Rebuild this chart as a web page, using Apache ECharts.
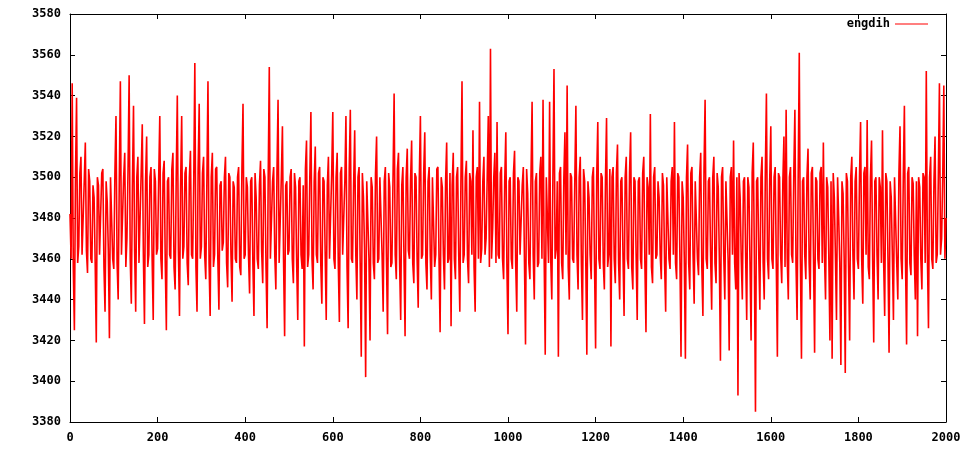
<!DOCTYPE html>
<html>
<head>
<meta charset="utf-8">
<script src="https://cdn.jsdelivr.net/npm/echarts@6/dist/echarts.min.js"></script>
<style>
  html, body { margin: 0; padding: 0; background: #fff; }
  #chart { width: 960px; height: 450px; }
</style>
</head>
<body>
<div id="chart"></div>
<script>
// engdih: samples at x = 0, 5, 10 ... (local highs / lows)
const seriesName = "engdih";
const xStep = 5;
const engdih = [
  3482, 3546, 3425, 3539, 3466, 3510, 3462, 3517, 3453, 3498, 3458, 3490, 3419, 3496, 3462, 3504, 3434, 3488, 3421, 3500,
  3455, 3530, 3440, 3547, 3462, 3512, 3470, 3550, 3438, 3535, 3434, 3510, 3458, 3526, 3428, 3520, 3462, 3505, 3430, 3498,
  3465, 3530, 3450, 3508, 3425, 3500, 3460, 3512, 3445, 3540, 3432, 3530, 3466, 3505, 3447, 3513, 3460, 3556, 3434, 3536,
  3466, 3510, 3450, 3547, 3432, 3512, 3462, 3505, 3435, 3498, 3468, 3510, 3446, 3500, 3439, 3495, 3458, 3505, 3452, 3536,
  3462, 3495, 3443, 3500, 3432, 3490, 3455, 3508, 3448, 3500, 3426, 3554, 3460, 3505, 3445, 3538, 3458, 3525, 3422, 3498,
  3464, 3504, 3448, 3495, 3430, 3500, 3455, 3417, 3518, 3462, 3532, 3445, 3515, 3458, 3505, 3438, 3498, 3430, 3510, 3460,
  3532, 3455, 3512, 3429, 3505, 3462, 3530, 3426, 3533, 3458, 3523, 3440, 3505, 3412, 3490, 3402, 3498, 3420, 3495, 3450,
  3520, 3460, 3500, 3434, 3505, 3423, 3495, 3458, 3541, 3450, 3512, 3430, 3505, 3422, 3514, 3460, 3518, 3448, 3500, 3436,
  3530, 3462, 3522, 3445, 3505, 3440, 3500, 3462, 3505, 3424, 3495, 3445, 3517, 3460, 3427, 3512, 3450, 3505, 3434, 3547,
  3462, 3508, 3448, 3498, 3523, 3434, 3505, 3537, 3465, 3510, 3470, 3530, 3563, 3475, 3512, 3527, 3460, 3505, 3450, 3522,
  3423, 3500, 3455, 3513, 3434, 3498, 3462, 3505, 3418, 3492, 3450, 3537, 3440, 3502, 3458, 3510, 3538, 3413, 3500, 3537,
  3440, 3553, 3465, 3412, 3505, 3450, 3522, 3545, 3440, 3500, 3458, 3535, 3445, 3510, 3430, 3498, 3413, 3490, 3450, 3505,
  3416, 3527, 3455, 3500, 3445, 3529, 3462, 3417, 3505, 3448, 3516, 3440, 3500, 3432, 3510, 3455, 3522, 3445, 3498, 3430,
  3500, 3455, 3510, 3424, 3495, 3531, 3448, 3505, 3462, 3490, 3450, 3496, 3434, 3500, 3455, 3505, 3527, 3450, 3500, 3412,
  3490, 3411, 3516, 3445, 3505, 3438, 3498, 3452, 3512, 3432, 3538, 3455, 3500, 3435, 3510, 3448, 3495, 3410, 3505, 3440,
  3498, 3415, 3505, 3518, 3445, 3393, 3490, 3440, 3500, 3430, 3495, 3420, 3517, 3385, 3500, 3435, 3510, 3440, 3541, 3450,
  3525, 3455, 3505, 3412, 3500, 3448, 3520, 3533, 3440, 3505, 3458, 3533, 3430, 3561, 3411, 3500, 3450, 3514, 3440, 3505,
  3414, 3498, 3455, 3505, 3517, 3440, 3495, 3420, 3411, 3490, 3430, 3480, 3408, 3492, 3404, 3498, 3420, 3510, 3440, 3505,
  3455, 3527, 3438, 3505, 3528, 3450, 3518, 3419, 3500, 3440, 3495, 3523, 3432, 3498, 3414, 3490, 3430, 3500, 3440, 3525,
  3450, 3535, 3418, 3505, 3452, 3497, 3440, 3422, 3495, 3445, 3500, 3552, 3426, 3510, 3455, 3520, 3462, 3546, 3470, 3545,
  3480
];
// in-between samples at x = 2.5, 7.5, 12.5 ... (body of the band)
const engdihMid = [
  3460, 3456, 3500, 3458, 3502, 3462, 3498, 3464, 3504, 3460, 3496, 3458, 3500, 3462, 3502, 3456, 3498, 3464, 3500, 3460,
  3502, 3458, 3498, 3462, 3500, 3456, 3504, 3460, 3496, 3464, 3500, 3458, 3502, 3462, 3498, 3456, 3500, 3460, 3504, 3462,
  3500, 3460, 3502, 3458, 3498, 3462, 3504, 3456, 3500, 3464, 3496, 3460, 3502, 3458, 3500, 3462, 3498, 3456, 3504, 3460,
  3502, 3462, 3498, 3458, 3500, 3456, 3504, 3460, 3496, 3464, 3500, 3458, 3502, 3462, 3498, 3460, 3500, 3456, 3504, 3460,
  3500, 3462, 3498, 3458, 3502, 3460, 3496, 3464, 3504, 3456, 3500, 3460, 3498, 3462, 3502, 3458, 3500, 3460, 3496, 3462,
  3500, 3460, 3502, 3458, 3498, 3462, 3496, 3504, 3456, 3500, 3460, 3498, 3462, 3502, 3458, 3500, 3464, 3496, 3460, 3502,
  3460, 3500, 3458, 3502, 3462, 3498, 3456, 3504, 3460, 3496, 3462, 3500, 3458, 3502, 3464, 3498, 3460, 3500, 3458, 3502,
  3458, 3500, 3462, 3498, 3460, 3502, 3456, 3500, 3462, 3504, 3458, 3496, 3460, 3500, 3464, 3498, 3458, 3502, 3460, 3500,
  3460, 3502, 3458, 3498, 3462, 3500, 3456, 3504, 3460, 3500, 3462, 3498, 3458, 3502, 3496, 3460, 3500, 3462, 3498, 3458,
  3500, 3460, 3502, 3462, 3456, 3500, 3460, 3458, 3498, 3462, 3500, 3456, 3460, 3500, 3458, 3462, 3502, 3460, 3498, 3456,
  3498, 3460, 3502, 3458, 3500, 3462, 3496, 3460, 3504, 3458, 3500, 3462, 3498, 3456, 3502, 3460, 3462, 3500, 3458, 3460,
  3500, 3460, 3498, 3502, 3458, 3500, 3462, 3456, 3502, 3460, 3498, 3462, 3500, 3458, 3504, 3460, 3498, 3462, 3500, 3458,
  3500, 3460, 3502, 3458, 3498, 3456, 3504, 3500, 3460, 3502, 3458, 3498, 3462, 3500, 3460, 3502, 3456, 3500, 3462, 3498,
  3460, 3502, 3458, 3500, 3462, 3456, 3500, 3460, 3498, 3462, 3502, 3458, 3500, 3460, 3498, 3462, 3458, 3502, 3460, 3498,
  3460, 3500, 3458, 3502, 3462, 3498, 3460, 3500, 3456, 3504, 3460, 3498, 3462, 3500, 3458, 3502, 3460, 3500, 3462, 3498,
  3460, 3500, 3462, 3458, 3500, 3502, 3460, 3498, 3462, 3500, 3458, 3502, 3460, 3498, 3462, 3500, 3458, 3502, 3460, 3498,
  3460, 3500, 3458, 3502, 3462, 3498, 3456, 3460, 3500, 3462, 3502, 3458, 3500, 3460, 3498, 3462, 3500, 3458, 3502, 3460,
  3500, 3460, 3502, 3458, 3462, 3500, 3460, 3498, 3502, 3462, 3500, 3458, 3498, 3460, 3502, 3456, 3500, 3462, 3498, 3460,
  3500, 3460, 3502, 3462, 3456, 3500, 3460, 3498, 3462, 3500, 3458, 3460, 3502, 3460, 3498, 3462, 3500, 3458, 3502, 3460,
  3500, 3460, 3502, 3458, 3500, 3462, 3498, 3500, 3460, 3502, 3458, 3462, 3500, 3460, 3498, 3458, 3500, 3462, 3500, 3460
];
const xTicks = { min: 0, max: 2000, interval: 200 };
const yTicks = { min: 3380, max: 3580, interval: 20 };

// interleave main samples and in-between samples
const points = [];
engdih.forEach((v, i) => {
  points.push([i * xStep, v]);
  if (i < engdihMid.length) {
    points.push([i * xStep + xStep / 2, engdihMid[i]]);
  }
});

const chart = echarts.init(document.getElementById("chart"), null, { renderer: "canvas" });
const labelFont = {
  fontFamily: "DejaVu Sans Mono",
  fontWeight: "bold",
  fontSize: 12,
  color: "#000"
};
const lineStyle = { color: "#000", width: 1 };
const tick = { show: true, inside: true, length: 5, lineStyle: lineStyle };
const plain = (v) => String(v);

const option = {
  animation: false,
  backgroundColor: "#fff",
  grid: { left: 70, right: 14, top: 14, bottom: 28, outerBoundsMode: "none", containLabel: false },
  legend: {
    data: [seriesName],
    right: 27,
    top: 13,
    align: "right",
    icon: "rect",
    itemWidth: 33,
    itemHeight: 1,
    itemGap: 8,
    textStyle: labelFont
  },
  xAxis: [
    {
      type: "value",
      min: xTicks.min,
      max: xTicks.max,
      interval: xTicks.interval,
      axisLine: { show: true, onZero: false, lineStyle: lineStyle },
      axisTick: tick,
      axisLabel: Object.assign({ margin: 10, formatter: plain }, labelFont),
      splitLine: { show: false }
    },
    {
      type: "value",
      position: "top",
      min: xTicks.min,
      max: xTicks.max,
      interval: xTicks.interval,
      axisLine: { show: true, onZero: false, lineStyle: lineStyle },
      axisTick: tick,
      axisLabel: { show: false },
      splitLine: { show: false }
    }
  ],
  yAxis: [
    {
      type: "value",
      min: yTicks.min,
      max: yTicks.max,
      interval: yTicks.interval,
      axisLine: { show: true, onZero: false, lineStyle: lineStyle },
      axisTick: tick,
      axisLabel: Object.assign({ margin: 9, formatter: plain }, labelFont),
      splitLine: { show: false }
    },
    {
      type: "value",
      position: "right",
      min: yTicks.min,
      max: yTicks.max,
      interval: yTicks.interval,
      axisLine: { show: true, onZero: false, lineStyle: lineStyle },
      axisTick: tick,
      axisLabel: { show: false },
      splitLine: { show: false }
    }
  ],
  series: [
    {
      name: seriesName,
      type: "line",
      showSymbol: false,
      symbol: "none",
      sampling: null,
      clip: true,
      itemStyle: { color: "#ff0000" },
      lineStyle: { color: "#ff0000", width: 1.6 },
      data: points
    }
  ]
};
chart.setOption(option);
</script>
</body>
</html>
